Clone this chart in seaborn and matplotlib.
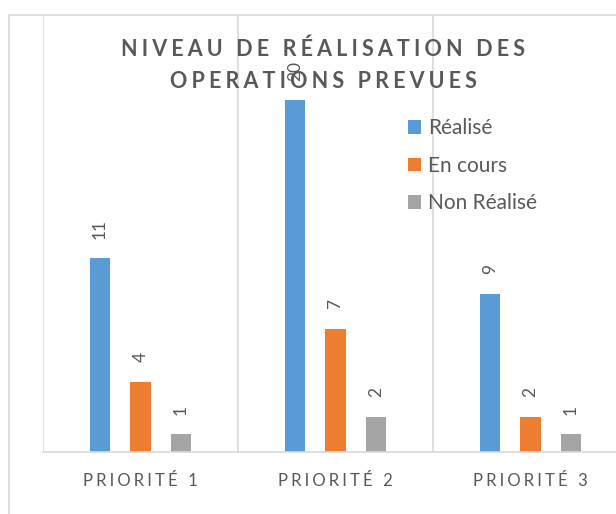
import matplotlib
matplotlib.use("Agg")
import matplotlib.pyplot as plt
from matplotlib.lines import Line2D
import seaborn as sns
import pandas as pd

# Data
categories = ["PRIORITÉ 1", "PRIORITÉ 2", "PRIORITÉ 3"]
statuses = ["Réalisé", "En cours", "Non Réalisé"]
realise = [11, 20, 9]
en_cours = [4, 7, 2]
non_realise = [1, 2, 1]
colors = ["#5B9BD5", "#ED7D31", "#A5A5A5"]
title_lines = ["NIVEAU DE RÉALISATION DES", "OPERATIONS PREVUES"]

rows = []
for status, vals in zip(statuses, [realise, en_cours, non_realise]):
    for cat, v in zip(categories, vals):
        rows.append({"Priorité": cat, "Statut": status, "Nombre": v})
df = pd.DataFrame(rows)

sns.set_theme(style="white")
FONTS = ["Lato", "DejaVu Sans"]
plt.rcParams["font.family"] = FONTS
TEXT = "#595959"
GRID = "#D9D9D9"

W, H = 616, 514
fig = plt.figure(figsize=(W / 100, H / 100), dpi=100)


def spaced(s, sep="\u2009\u200a"):
    """Letter-spaced version of a string."""
    return sep.join(list(s))


# chart area outline
fig.add_artist(Line2D([9 / W, 1.0], [1 - 15 / H, 1 - 15 / H], color=GRID, lw=1.2,
                      transform=fig.transFigure))
fig.add_artist(Line2D([9 / W, 9 / W], [0.0, 1 - 15 / H], color=GRID, lw=1.2,
                      transform=fig.transFigure))

ax = fig.add_axes([43 / W, 62 / H, 585 / W, 437 / H])
sns.barplot(data=df, x="Priorité", y="Nombre", hue="Statut", order=categories,
            hue_order=statuses, palette=colors, width=0.623, gap=0.5,
            linewidth=0, saturation=1, ax=ax)

ax.set_xlim(-0.5, 2.5)
ax.set_ylim(0, 24.83)
ax.set_yticks([])
ax.set_xlabel("")
ax.set_ylabel("")
ax.set_xticks(range(len(categories)))
ax.set_xticklabels([spaced(c) for c in categories], color=TEXT,
                   fontsize=12, family=FONTS)
ax.tick_params(axis="x", length=0, pad=15)
ax.set_xticks([-0.5, 0.5, 1.5, 2.5], minor=True)
ax.tick_params(axis="x", which="minor", length=0)
ax.grid(axis="x", which="minor", color=GRID, lw=1.2)
ax.grid(axis="x", which="major", visible=False)
ax.set_axisbelow(True)
for side in ["left", "right", "top"]:
    ax.spines[side].set_visible(False)
ax.spines["bottom"].set_color(GRID)
ax.spines["bottom"].set_linewidth(1.2)

for cont in ax.containers:
    ax.bar_label(cont, rotation=90, padding=14, color=TEXT, fontsize=12.5)

handles, labels = ax.get_legend_handles_labels()
ax.legend(handles, labels, loc="upper left", frameon=False,
          bbox_to_anchor=(400 / W, 1 - 110 / H), bbox_transform=fig.transFigure,
          fontsize=15, handlelength=0.63, handleheight=0.63, handletextpad=0.3,
          labelspacing=0.84, labelcolor=TEXT, borderaxespad=0)

fig.text(323 / W, 1 - 49 / H, spaced(title_lines[0]), ha="center", va="center",
         fontsize=15.5, fontweight="bold", color=TEXT)
fig.text(323 / W, 1 - 81 / H, spaced(title_lines[1]), ha="center", va="center",
         fontsize=15.5, fontweight="bold", color=TEXT)

fig.savefig("out.png", dpi=100)
